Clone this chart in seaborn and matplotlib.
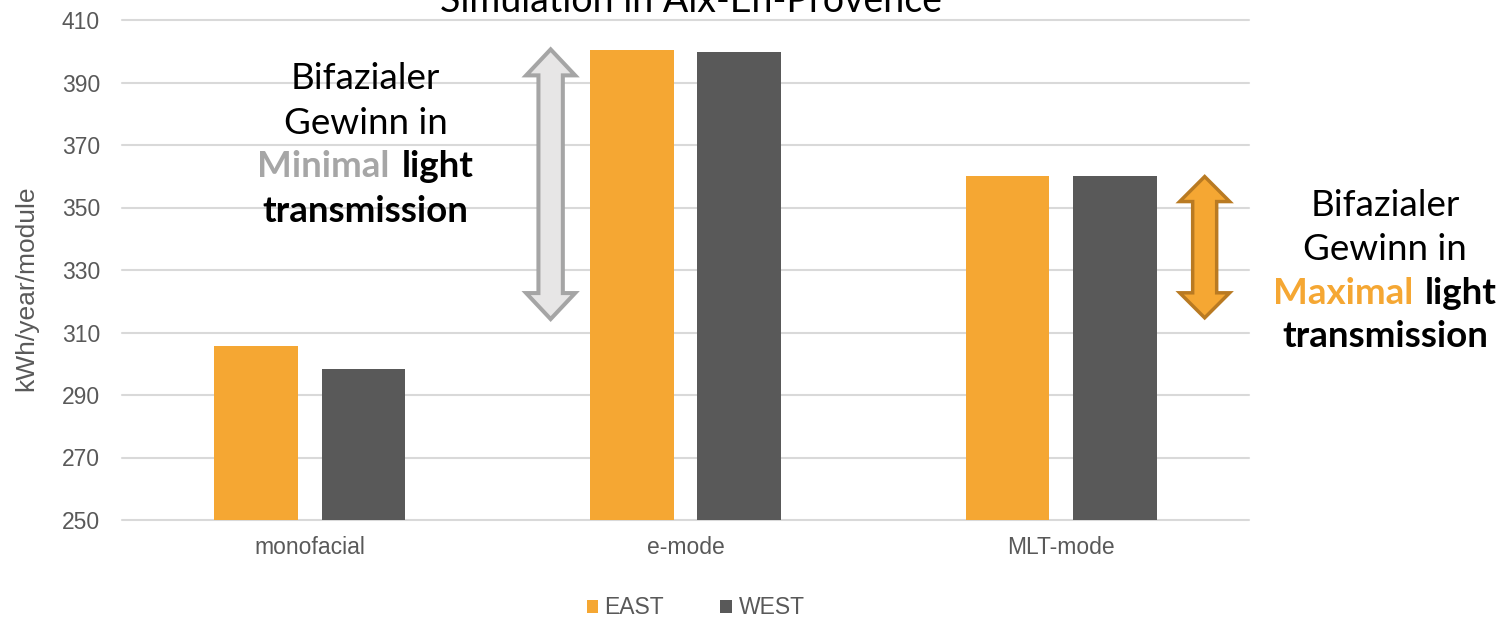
import matplotlib
matplotlib.use("Agg")
import matplotlib.pyplot as plt
import numpy as np
import pandas as pd
import seaborn as sns
from matplotlib.patches import Polygon
from matplotlib.transforms import IdentityTransform

# ---- data -------------------------------------------------------------
modes = ["monofacial", "e-mode", "MLT-mode"]
sides = ["EAST", "WEST"]
east = [305.7, 400.4, 360.2]
west = [298.3, 399.7, 360.0]
yticks = [250, 270, 290, 310, 330, 350, 370, 390, 410]

df = pd.DataFrame({
    "mode": modes * 2,
    "side": [sides[0]] * len(modes) + [sides[1]] * len(modes),
    "value": east + west,
})

ORANGE = "#F5A733"
DARK = "#595959"
GRID = "#D9D9D9"
LABEL = "#595959"

W, H = 1501, 617

sns.set_style("white")
plt.rcParams["font.family"] = ["Liberation Sans", "DejaVu Sans"]

fig = plt.figure(figsize=(W / 100, H / 100), dpi=100)
ax = fig.add_axes([122 / W, 1 - 520 / H, (1249 - 122) / W, 500 / H])

sns.barplot(data=df, x="mode", y="value", hue="side", order=modes,
            hue_order=sides, palette=[ORANGE, DARK], saturation=1,
            width=0.571, gap=0.222, errorbar=None, linewidth=0, ax=ax)

ax.set_xlim(-0.5, 2.5)
ax.set_ylim(250, 410)
ax.set_yticks(yticks)
ax.yaxis.grid(True, color=GRID, linewidth=1.5)
for gl in ax.get_ygridlines():
    gl.set_clip_on(False)
ax.set_axisbelow(True)
for s in ax.spines.values():
    s.set_visible(False)
ax.tick_params(length=0, labelsize=16.5, labelcolor=LABEL)
ax.tick_params(axis="y", pad=15.8)
ax.tick_params(axis="x", pad=11.5)
ax.set_xlabel("")
ax.set_ylabel("kWh/year/module", fontsize=19, color=LABEL)
ax.yaxis.set_label_coords(-0.0745, 0.463)

ax.legend(loc="center", bbox_to_anchor=(695.5 / W, 1 - 608 / H),
          bbox_transform=fig.transFigure, ncol=2, frameon=False,
          fontsize=16.5, handlelength=0.52, handleheight=0.52,
          handletextpad=0.27, columnspacing=2.45, labelcolor=LABEL)

# ---- title --------------------------------------------------------------
fig.text(691 / W, 1 - 11.5 / H, "Simulation in Aix-En-Provence",
         ha="center", va="baseline", fontsize=27, family="Lato",
         color="black")


# ---- double-headed block arrows -----------------------------------------
def double_arrow(x, y_top, y_bot, head_hw, shaft_hw, head_len, fc, ec, lw):
    cx, top = ax.transData.transform((x, y_top))
    _, bot = ax.transData.transform((x, y_bot))
    pts = [
        (cx, top),
        (cx + head_hw, top - head_len),
        (cx + shaft_hw, top - head_len),
        (cx + shaft_hw, bot + head_len),
        (cx + head_hw, bot + head_len),
        (cx, bot),
        (cx - head_hw, bot + head_len),
        (cx - shaft_hw, bot + head_len),
        (cx - shaft_hw, top - head_len),
        (cx - head_hw, top - head_len),
    ]
    poly = Polygon(pts, closed=True, facecolor=fc, edgecolor=ec,
                   linewidth=lw, joinstyle="miter",
                   transform=IdentityTransform(), zorder=5)
    fig.add_artist(poly)


double_arrow(0.641, 400.6, 314.3, 24.5, 12.2, 26, "#E7E6E6", "#A5A5A5", 2.9)
double_arrow(2.382, 359.9, 314.7, 25.0, 12.0, 25, ORANGE, "#B97A22", 2.5)


# ---- annotation texts ---------------------------------------------------
def fx(px):
    return px / W


def fy(py):
    return 1 - py / H


TXT = dict(family="Lato", fontsize=26.5, va="baseline", color="black")
renderer = fig.canvas.get_renderer()


def text_width(t):
    return t.get_window_extent(renderer=renderer).width


def note(cx, baselines, highlight, hcolor, gap=12):
    fig.text(fx(cx), fy(baselines[0]), "Bifazialer", ha="center", **TXT)
    fig.text(fx(cx), fy(baselines[1]), "Gewinn in", ha="center", **TXT)
    t1 = fig.text(0, fy(baselines[2]), highlight, ha="left",
                  fontweight="bold", **{**TXT, "color": hcolor})
    t2 = fig.text(0, fy(baselines[2]), "light", ha="left",
                  fontweight="bold", **TXT)
    w1, w2 = text_width(t1), text_width(t2)
    left = cx - (w1 + gap + w2) / 2
    t1.set_x(fx(left))
    t2.set_x(fx(left + w1 + gap))
    fig.text(fx(cx), fy(baselines[3]), "transmission", ha="center",
             fontweight="bold", **TXT)


note(365.5, [89.3, 134.3, 176.7, 221.7], "Minimal", "#A6A6A6")
note(1385, [215.7, 260.0, 303.5, 347.0], "Maximal", ORANGE)

fig.savefig("out.png", dpi=100)
